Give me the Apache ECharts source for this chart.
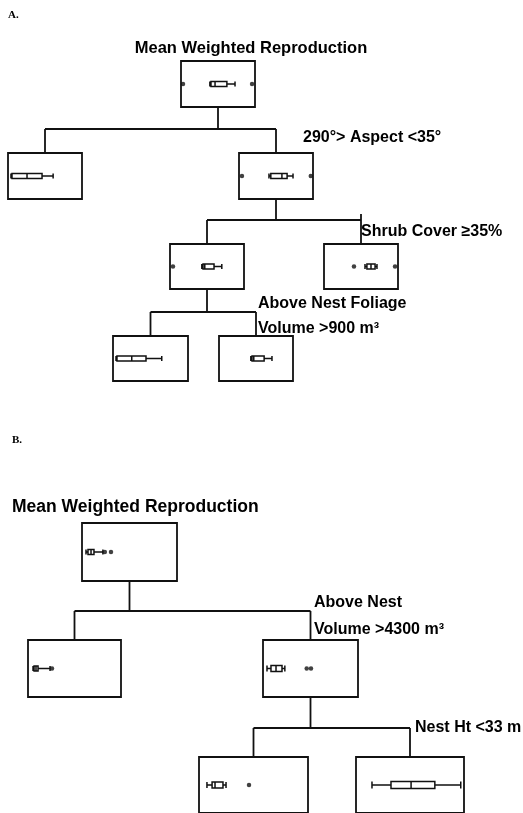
<!DOCTYPE html>
<html>
<head>
<meta charset="utf-8">
<script src="https://cdn.jsdelivr.net/npm/echarts@6/dist/echarts.min.js"></script>
<style>
html,body{margin:0;padding:0;background:#fff;}
#chart{width:523px;height:813px;}
</style>
</head>
<body>
<div id="chart"></div>
<script>
// ---- Data (relative position of mean weighted reproduction within each node, 0-100) ----
// boxplot stats: [lowWhisker, Q1, median, Q3, highWhisker]
const nodeNames = ['A root','A left','A right','A right-left','A right-right','A rl-left','A rl-right',
                   'B root','B left','B right','B right-left','B right-right'];
const boxStats = [
  [39, 40.5, 46, 62, 73],
  [4, 5.4, 25.7, 46, 61],
  [40.5, 43, 58, 65, 73],
  [43, 44.6, 47, 59.5, 70],
  [55.4, 58, 63.5, 69, 71.6],
  [4, 5.3, 25, 44, 65],
  [43, 44.6, 47, 61, 71.6],
  [4.2, 6.3, 9.5, 12.6, 22],
  [5.4, 6.5, 8.6, 10.8, 23.7],
  [4.2, 8.4, 13.7, 20, 23],
  [7.3, 12, 14.7, 22, 24.8],
  [14.8, 32.4, 51, 73, 97]
];
const outliers = [
  [2.7, 96],
  [],
  [4, 97],
  [4],
  [40.5, 96],
  [],
  [],
  [24, 30.5],
  [25.8],
  [46, 50.5],
  [45.9],
  []
];
const titleText = 'Mean Weighted Reproduction';
const panelLabels = ['A.', 'B.'];
const splitLabels = [
  ['290°> Aspect <35°'],
  ['Shrub Cover ≥35%'],
  ['Above Nest Foliage', 'Volume >900 m³'],
  ['Above Nest', 'Volume >4300 m³'],
  ['Nest Ht <33 m']
];

// ---- Layout (pixels) ----
const nodeBoxes = [ // [left, top, width, height]
  [181, 61, 74, 46],
  [8, 153, 74, 46],
  [239, 153, 74, 46],
  [170, 244, 74, 45],
  [324, 244, 74, 45],
  [113, 336, 75, 45],
  [219, 336, 74, 45],
  [82, 523, 95, 58],
  [28, 640, 93, 57],
  [263, 640, 95, 57],
  [199, 757, 109, 60],
  [356, 757, 108, 60]
];
const boxHeights = [5,5,5,5,5,5,5,5,5,6,6,7];
// splits: [parent, leftChild, rightChild, splitY]
const splits = [
  [0, 1, 2, 129],
  [2, 3, 4, 220],
  [3, 5, 6, 312],
  [7, 8, 9, 611],
  [9, 10, 11, 728]
];
const splitLabelPos = [[303, 138], [361, 232], [258, 304], [314, 603], [415, 728]];
const lineGap = [0, 0, 25, 27, 0];

const ink = '#111';
const grids = [], xAxes = [], yAxes = [], series = [];
nodeBoxes.forEach((b, i) => {
  grids.push({left: b[0], top: b[1], width: b[2], height: b[3], show: true,
              borderColor: ink, borderWidth: 1.8, backgroundColor: 'transparent'});
  xAxes.push({type: 'value', gridIndex: i, min: 0, max: 100, show: false});
  yAxes.push({type: 'category', gridIndex: i, data: [nodeNames[i]], show: false});
  series.push({type: 'boxplot', xAxisIndex: i, yAxisIndex: i, silent: true,
               boxWidth: [boxHeights[i], boxHeights[i]],
               itemStyle: {color: '#fff', borderColor: ink, borderWidth: 1.5},
               data: [boxStats[i]]});
  if (outliers[i].length) {
    series.push({type: 'scatter', xAxisIndex: i, yAxisIndex: i, silent: true,
                 symbolSize: 4.5, itemStyle: {color: ink},
                 data: outliers[i].map(v => [v, nodeNames[i]])});
  }
});

const graphic = [];
const L = (x1, y1, x2, y2) => graphic.push({type: 'line', silent: true,
  shape: {x1, y1, x2, y2}, style: {stroke: ink, lineWidth: 1.8}});
const cx = i => nodeBoxes[i][0] + nodeBoxes[i][2] / 2;
splits.forEach(([p, l, r, sy]) => {
  L(cx(p), nodeBoxes[p][1] + nodeBoxes[p][3], cx(p), sy);
  L(cx(l), sy, cx(r), sy);
  L(cx(l), sy, cx(l), nodeBoxes[l][1]);
  L(cx(r), sy, cx(r), nodeBoxes[r][1]);
});
// small tick above the right end of the shrub-cover split
L(cx(4), splits[1][3] - 6, cx(4), splits[1][3]);

const T = (text, x, y, font, align) => graphic.push({type: 'text', silent: true, x, y,
  style: {text, font, fill: '#000', align: align || 'left', verticalAlign: 'middle'}});
T(panelLabels[0], 8, 15, 'bold 11px "Liberation Serif"');
T(panelLabels[1], 12, 440, 'bold 11px "Liberation Serif"');
T(titleText, 251, 48, 'bold 16.5px "Liberation Sans"', 'center');
T(titleText, 12, 507, 'bold 17.5px "Liberation Sans"');
splitLabels.forEach((lines, k) => {
  lines.forEach((s, j) => T(s, splitLabelPos[k][0], splitLabelPos[k][1] + j * lineGap[k],
                           'bold 16px "Liberation Sans"'));
});

const chart = echarts.init(document.getElementById('chart'));
chart.setOption({
  animation: false,
  backgroundColor: '#fff',
  grid: grids, xAxis: xAxes, yAxis: yAxes, series, graphic
});
</script>
</body>
</html>
